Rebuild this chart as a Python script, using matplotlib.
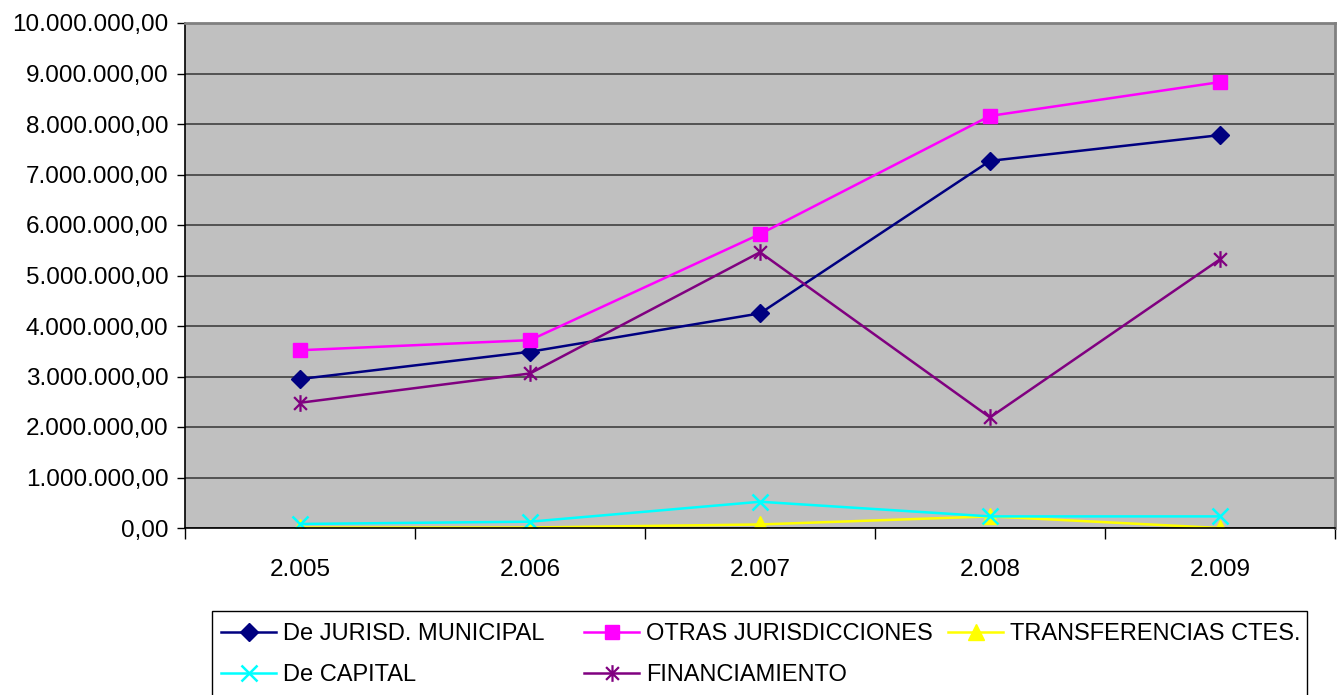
import matplotlib
matplotlib.use("Agg")
import matplotlib.pyplot as plt
from matplotlib.path import Path
from matplotlib.patches import Rectangle
from matplotlib.ticker import FuncFormatter, FixedLocator

plt.rcParams['font.family'] = ['Liberation Sans', 'DejaVu Sans']

years = ["2.005", "2.006", "2.007", "2.008", "2.009"]
jurisd_municipal = [2950000, 3490000, 4250000, 7270000, 7780000]
otras_jurisdicciones = [3520000, 3720000, 5820000, 8160000, 8830000]
transferencias_ctes = [10000, 10000, 70000, 230000, 0]
de_capital = [80000, 125000, 520000, 230000, 230000]
financiamiento = [2480000, 3060000, 5460000, 2190000, 5320000]

labels = ["De JURISD. MUNICIPAL", "OTRAS JURISDICCIONES", "TRANSFERENCIAS CTES.",
          "De CAPITAL", "FINANCIAMIENTO"]

W, H = 1343, 695
fig = plt.figure(figsize=(W / 100, H / 100), dpi=100)
ax = fig.add_axes([185 / W, (H - 528) / H, (1335 - 185) / W, (528 - 23) / H])
ax.set_facecolor('#C0C0C0')

star = Path([(-1, -1), (1, 1), (-1, 1), (1, -1), (0, -1.3), (0, 1.3)],
            [Path.MOVETO, Path.LINETO, Path.MOVETO, Path.LINETO, Path.MOVETO, Path.LINETO])

x = list(range(len(years)))
lw = 1.8
h1, = ax.plot(x, jurisd_municipal, color='#000080', lw=lw, marker='D', ms=9, mec='#000080', mfc='#000080')
h2, = ax.plot(x, otras_jurisdicciones, color='#FF00FF', lw=lw, marker='s', ms=9.5, mec='#FF00FF', mfc='#FF00FF')
h3, = ax.plot(x, transferencias_ctes, color='#FFFF00', lw=lw, marker='^', ms=11, mec='#FFFF00', mfc='#FFFF00')
h4, = ax.plot(x, de_capital, color='#00FFFF', lw=lw, marker='x', ms=11, mew=1.8)
h5, = ax.plot(x, financiamiento, color='#800080', lw=lw, marker=star, ms=12, mew=1.6)

ax.set_xlim(-0.5, len(years) - 0.5)
ax.set_ylim(0, 10000000)
ax.yaxis.set_major_locator(FixedLocator([i * 1000000 for i in range(11)]))

def fmt(v, pos):
    s = f"{v:,.2f}"
    return s.replace(",", "X").replace(".", ",").replace("X", ".")

ax.yaxis.set_major_formatter(FuncFormatter(fmt))
ax.grid(axis='y', color='#404040', lw=1.2)
ax.set_axisbelow(True)

ax.set_xticks([i - 0.5 for i in range(len(years) + 1)])
ax.set_xticklabels([])
ax.set_xticks(x, minor=True)
ax.set_xticklabels(years, minor=True)
ax.tick_params(axis='x', which='major', length=8, width=1, color='black', direction='out')
ax.tick_params(axis='x', which='minor', length=0, pad=22, labelsize=17.5)
ax.tick_params(axis='y', length=6, width=1, direction='out', labelsize=17.5, pad=6)

for side in ['left', 'bottom']:
    ax.spines[side].set_color('black')
    ax.spines[side].set_linewidth(1.2)
for side in ['top', 'right']:
    ax.spines[side].set_color('#808080')
    ax.spines[side].set_linewidth(2)

# legend frame
fig.patches.append(Rectangle((212 / W, -0.05), (1307 - 212) / W, (H - 611) / H + 0.05,
                             transform=fig.transFigure, facecolor='white',
                             edgecolor='black', lw=1, zorder=0))

handles = [h1, h2, h3, h4, h5]
columns = [[0, 3], [1, 4], [2]]
col_x = [221, 584, 948]
for cx, idx in zip(col_x, columns):
    lg = fig.legend([handles[i] for i in idx], [labels[i] for i in idx], loc='upper left',
                    bbox_to_anchor=(cx / W, (H - 623) / H), fontsize=17, frameon=False,
                    handlelength=2.33, handletextpad=0.28, labelspacing=0.82,
                    borderpad=0, borderaxespad=0)

fig.savefig('out.png', dpi=100)
